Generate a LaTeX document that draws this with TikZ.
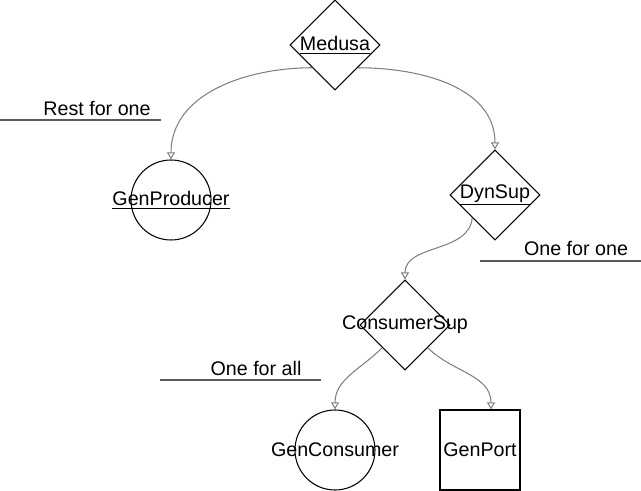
\documentclass[tikz,border=0pt]{standalone}
\usepackage{fontspec}
\setmainfont{Liberation Sans}
\usetikzlibrary{shapes, arrows.meta, calc}

\definecolor{linkgray}{HTML}{808080}
\definecolor{rulegray}{HTML}{5A5A5A}

\begin{document}
\begin{tikzpicture}[
    >={Triangle[open, length=4pt, width=4.5pt]},
    font=\fontsize{11.2}{13.4}\selectfont,
    sup/.style={diamond, draw, line width=0.6pt, minimum width=1.8cm, minimum height=1.8cm, inner sep=0pt},
    worker/.style={circle, draw, line width=0.6pt, minimum size=1.6cm, inner sep=0pt},
    port/.style={rectangle, draw, line width=0.6pt, minimum width=1.6cm, minimum height=1.6cm, inner sep=0pt},
    link/.style={->, draw=linkgray, line width=0.6pt},
    strategy/.style={draw=none, inner sep=0pt},
    rule/.style={draw=rulegray, line width=0.6pt},
]

\useasboundingbox (0,0) rectangle (12.82,9.82);

% Supervisors
\node (Medusa) at (6.70, 8.92) [sup, label=center:\underline{Medusa}] {};
\node (DynSup) at (9.90, 5.92) [sup, label=center:\underline{DynSup}] {};
\node (ConsumerSup) at (8.10, 3.32) [sup, label=center:ConsumerSup] {};

% Workers
\node (GenProducer) at (3.42, 5.82) [worker, label=center:\underline{GenProducer}] {};
\node (GenConsumer) at (6.70, 0.82) [worker, label=center:GenConsumer] {};
\node (GenPort) at (9.60, 0.82) [port, label=center:GenPort] {};

% Restart strategies
\node (RestForOne) at (1.94, 7.66) [strategy] {Rest for one};
\node (OneForOne) at (11.52, 4.86) [strategy] {One for one};
\node (OneForAll) at (5.12, 2.46) [strategy] {One for all};
\draw[rule] (0, 7.42) -- (3.22, 7.42);
\draw[rule] (9.60, 4.60) -- (12.82, 4.60);
\draw[rule] (3.20, 2.22) -- (6.42, 2.22);

% Supervision links
\draw[link] (Medusa.south west) to[out=180, in=90] (GenProducer.north);
\draw[link] (Medusa.south east) to[out=0, in=90] (DynSup.north);
\draw[link] (DynSup.south west) to[out=-95, in=90] (ConsumerSup.north);
\draw[link] (ConsumerSup.south west) to[out=-135, in=90] (GenConsumer.north);
\draw[link] (ConsumerSup.south east) to[out=-45, in=90] ([xshift=0.22cm]GenPort.north);

\end{tikzpicture}
\end{document}
